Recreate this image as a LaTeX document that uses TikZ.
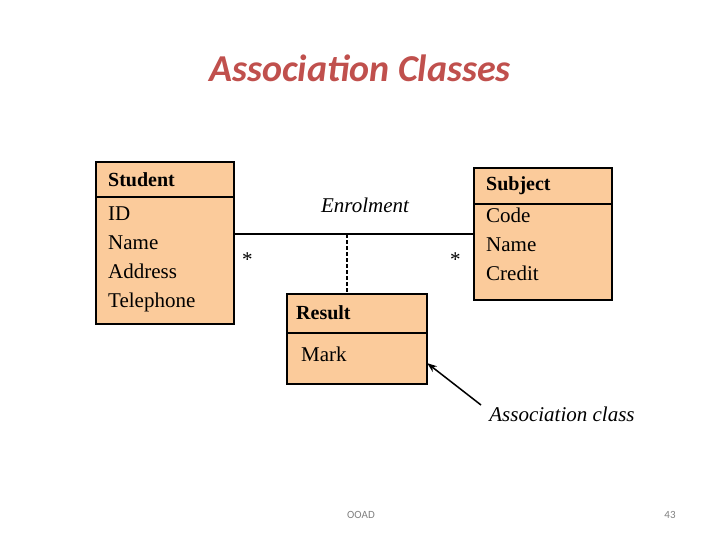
\documentclass[tikz,border=0pt]{standalone}
\usepackage{fontspec}
\setmainfont{Liberation Serif}
\newfontfamily\carlitofont{Carlito}
\usetikzlibrary{arrows.meta}
\definecolor{peach}{HTML}{FBCB9B}
\definecolor{ttl}{HTML}{C0504D}
\tikzset{cls/.style={draw,line width=1.8pt,fill=peach},
ln/.style={line width=1.8pt},
txt/.style={anchor=west,inner sep=0pt,font=\fontsize{21}{29}\selectfont}}
\begin{document}
\begin{tikzpicture}[x=1pt,y=-1pt]
\useasboundingbox (0,0) rectangle (720,540);
\node[font=\carlitofont\bfseries\itshape\fontsize{38}{42}\selectfont,text=ttl] (title) at (360,68) {Association Classes};
% Student
\draw[cls] (96,162) rectangle (234,324);
\draw[ln] (96,197) -- (234,197);
\node[txt,font=\bfseries\fontsize{20}{24}\selectfont] (sn) at (108,180) {Student};
\node[txt,align=left,anchor=north west,font=\fontsize{21}{29}\selectfont] (sa) at (108,207) {ID\\Name\\Address\\Telephone};
% Subject
\draw[cls] (474,168) rectangle (612,300);
\draw[ln] (474,204) -- (612,204);
\node[txt,font=\bfseries\fontsize{20}{24}\selectfont] (bn) at (486,186) {Subject};
\node[txt,align=left,anchor=north west,font=\fontsize{21}{29}\selectfont] (ba) at (486,208) {Code\\Name\\Credit};
% association
\coordinate (L) at (234,234); \coordinate (R) at (474,234);
\draw[ln] (L) -- (R);
\node[txt] (s1) at (242,260) {*};
\node[txt] (s2) at (450,260) {*};
\node[font=\itshape\fontsize{21}{25}\selectfont] (en) at (365,205) {Enrolment};
% Result
\draw[cls] (287,294) rectangle (427,384);
\draw[ln] (287,333) -- (427,333);
\node[txt,font=\bfseries\fontsize{20}{24}\selectfont] (rn) at (296,313) {Result};
\node[txt] (ra) at (301,354) {Mark};
\coordinate (D) at (347,234); \coordinate (DT) at (347,294);
\draw[ln,dashed,dash pattern=on 4pt off 2pt] (D) -- (DT);
% label
\node[font=\itshape\fontsize{21}{25}\selectfont] (ac) at (562,414) {Association class};
\coordinate (A1) at (481,405); \coordinate (A2) at (427,363);
\draw[ln,line width=1.5pt,-{Stealth[length=10pt,width=7pt]}] (A1) -- (A2);
\node[font=\carlitofont\fontsize{11}{13}\selectfont,text=gray] (f1) at (361,515) {OOAD};
\node[font=\carlitofont\fontsize{11}{13}\selectfont,text=gray] (f2) at (670,515) {43};
\end{tikzpicture}
\end{document}
